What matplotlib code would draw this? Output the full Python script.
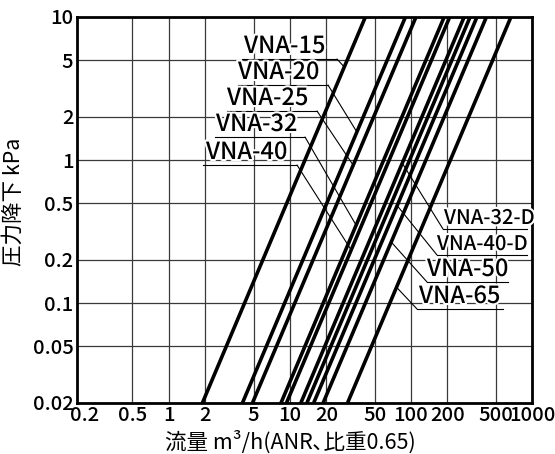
import matplotlib
matplotlib.use("Agg")
import matplotlib.pyplot as plt
import matplotlib.patheffects as pe
import numpy as np

plt.rcParams['font.family'] = ['Noto Sans CJK JP', 'DejaVu Sans']
plt.rcParams['font.weight'] = 'medium'

# Datos: caudal (m3/h) en 0.02 kPa y en 10 kPa para cada curva
flow_low = [1.89, 4.05, 4.9, 8.43, 9.36, 12.3, 13.8, 15.7, 18.8, 29.9]
flow_high = [42, 90, 110, 188, 209, 275, 308, 351, 420, 670]
p_low, p_high = 0.02, 10

x_ticks = [0.2, 0.5, 1, 2, 5, 10, 20, 50, 100, 200, 500, 1000]
x_labels = ['0.2', '0.5', '1', '2', '5', '10', '20', '50', '100', '200', '500', '1000']
y_ticks = [0.02, 0.05, 0.1, 0.2, 0.5, 1, 2, 5, 10]
y_labels = ['0.02', '0.05', '0.1', '0.2', '0.5', '1', '2', '5', '10']

# Etiquetas: nombre, curva a la que apunta, presión del punto de la guía
left_names = ['VNA-15', 'VNA-20', 'VNA-25', 'VNA-32', 'VNA-40']
left_curve = [0, 1, 2, 3, 4]
left_p = [4.47, 1.57, 0.92, 0.35, 0.235]
right_names = ['VNA-32-D', 'VNA-40-D', 'VNA-50', 'VNA-65']
right_curve = [5, 7, 8, 9]
right_p = [0.95, 0.48, 0.267, 0.129]

W, H = 555, 454
fig = plt.figure(figsize=(W / 100, H / 100), dpi=100)
L, R, T, B = 77, 532, 17, 403
ax = fig.add_axes([L / W, 1 - B / H, (R - L) / W, (B - T) / H])


def px(x, y):
    """pixel de la imagen -> fracción de ejes"""
    return (x - L) / (R - L), (B - y) / (B - T)


ax.set_xscale('log')
ax.set_yscale('log')
ax.set_xlim(0.174, 1000)
ax.set_ylim(p_low, p_high)

ax.set_xticks(x_ticks)
ax.set_xticklabels(x_labels)
ax.set_yticks(y_ticks)
ax.set_yticklabels(y_labels)
ax.minorticks_off()
ax.tick_params(length=0, labelsize=14.5, pad=2.5, colors='black')

ax.grid(True, color='#3a3a3a', linewidth=0.9)
ax.get_xgridlines()[0].set_visible(False)
for s in ax.spines.values():
    s.set_linewidth(2)

# Curvas
for q0, q1 in zip(flow_low, flow_high):
    ax.plot([q0, q1], [p_low, p_high], color='black', linewidth=2.6, solid_capstyle='butt', zorder=3)

halo = [pe.withStroke(linewidth=3, foreground='white')]


def point_on_curve(i, p):
    q = np.exp(np.interp(np.log(p), np.log([p_low, p_high]), np.log([flow_low[i], flow_high[i]])))
    return q, p


# Etiquetas de la izquierda (subrayado + guía hacia abajo a la derecha)
left_pos = [(242, 337, 59, 244), (238, 328, 85, 238), (227, 317, 111, 227),
            (215, 305, 137, 216), (203, 297, 165, 206)]
for name, ci, p, (x0, x1, uy, tx) in zip(left_names, left_curve, left_p, left_pos):
    a0 = px(x0, uy)
    a1 = px(x1, uy)
    ax.plot([a0[0], a1[0]], [a0[1], a1[1]], transform=ax.transAxes, color='black', lw=0.8, zorder=4)
    ax.annotate('', xy=point_on_curve(ci, p), xycoords='data', xytext=a1, textcoords='axes fraction',
                arrowprops=dict(arrowstyle='-', color='black', lw=0.8, shrinkA=0, shrinkB=0), zorder=4)
    t = px(tx, uy - 1)
    ax.text(t[0], t[1], name, transform=ax.transAxes, fontsize=17, ha='left', va='bottom',
            path_effects=halo, zorder=5)

# Etiquetas de la derecha (guía hacia arriba a la izquierda)
right_pos = [(443, 527, 229, 444), (437, 527, 255, 437), (427, 508, 282, 427), (417, 503, 309, 419)]
right_size = [14.5, 14.5, 17, 17]
for name, ci, p, (x0, x1, uy, tx), fs in zip(right_names, right_curve, right_p, right_pos, right_size):
    a0 = px(x0, uy)
    a1 = px(x1, uy)
    ax.plot([a0[0], a1[0]], [a0[1], a1[1]], transform=ax.transAxes, color='black', lw=0.8, zorder=4)
    ax.annotate('', xy=point_on_curve(ci, p), xycoords='data', xytext=a0, textcoords='axes fraction',
                arrowprops=dict(arrowstyle='-', color='black', lw=0.8, shrinkA=0, shrinkB=0), zorder=4)
    t = px(tx, uy - 1)
    ax.text(t[0], t[1], name, transform=ax.transAxes, fontsize=fs, ha='left', va='bottom',
            path_effects=halo, zorder=5)

ax.set_xlabel('流量 m³/h(ANR､比重0.65)', fontsize=15.5)
ax.xaxis.set_label_coords(*px(290, 431))
ax.xaxis.label.set_va('top')
ax.set_ylabel('圧力降下 kPa', fontsize=15.5)
ax.yaxis.set_label_coords(*px(14, 202))
ax.yaxis.label.set_va('center')

plt.savefig('out.png', dpi=100)
plt.close()
